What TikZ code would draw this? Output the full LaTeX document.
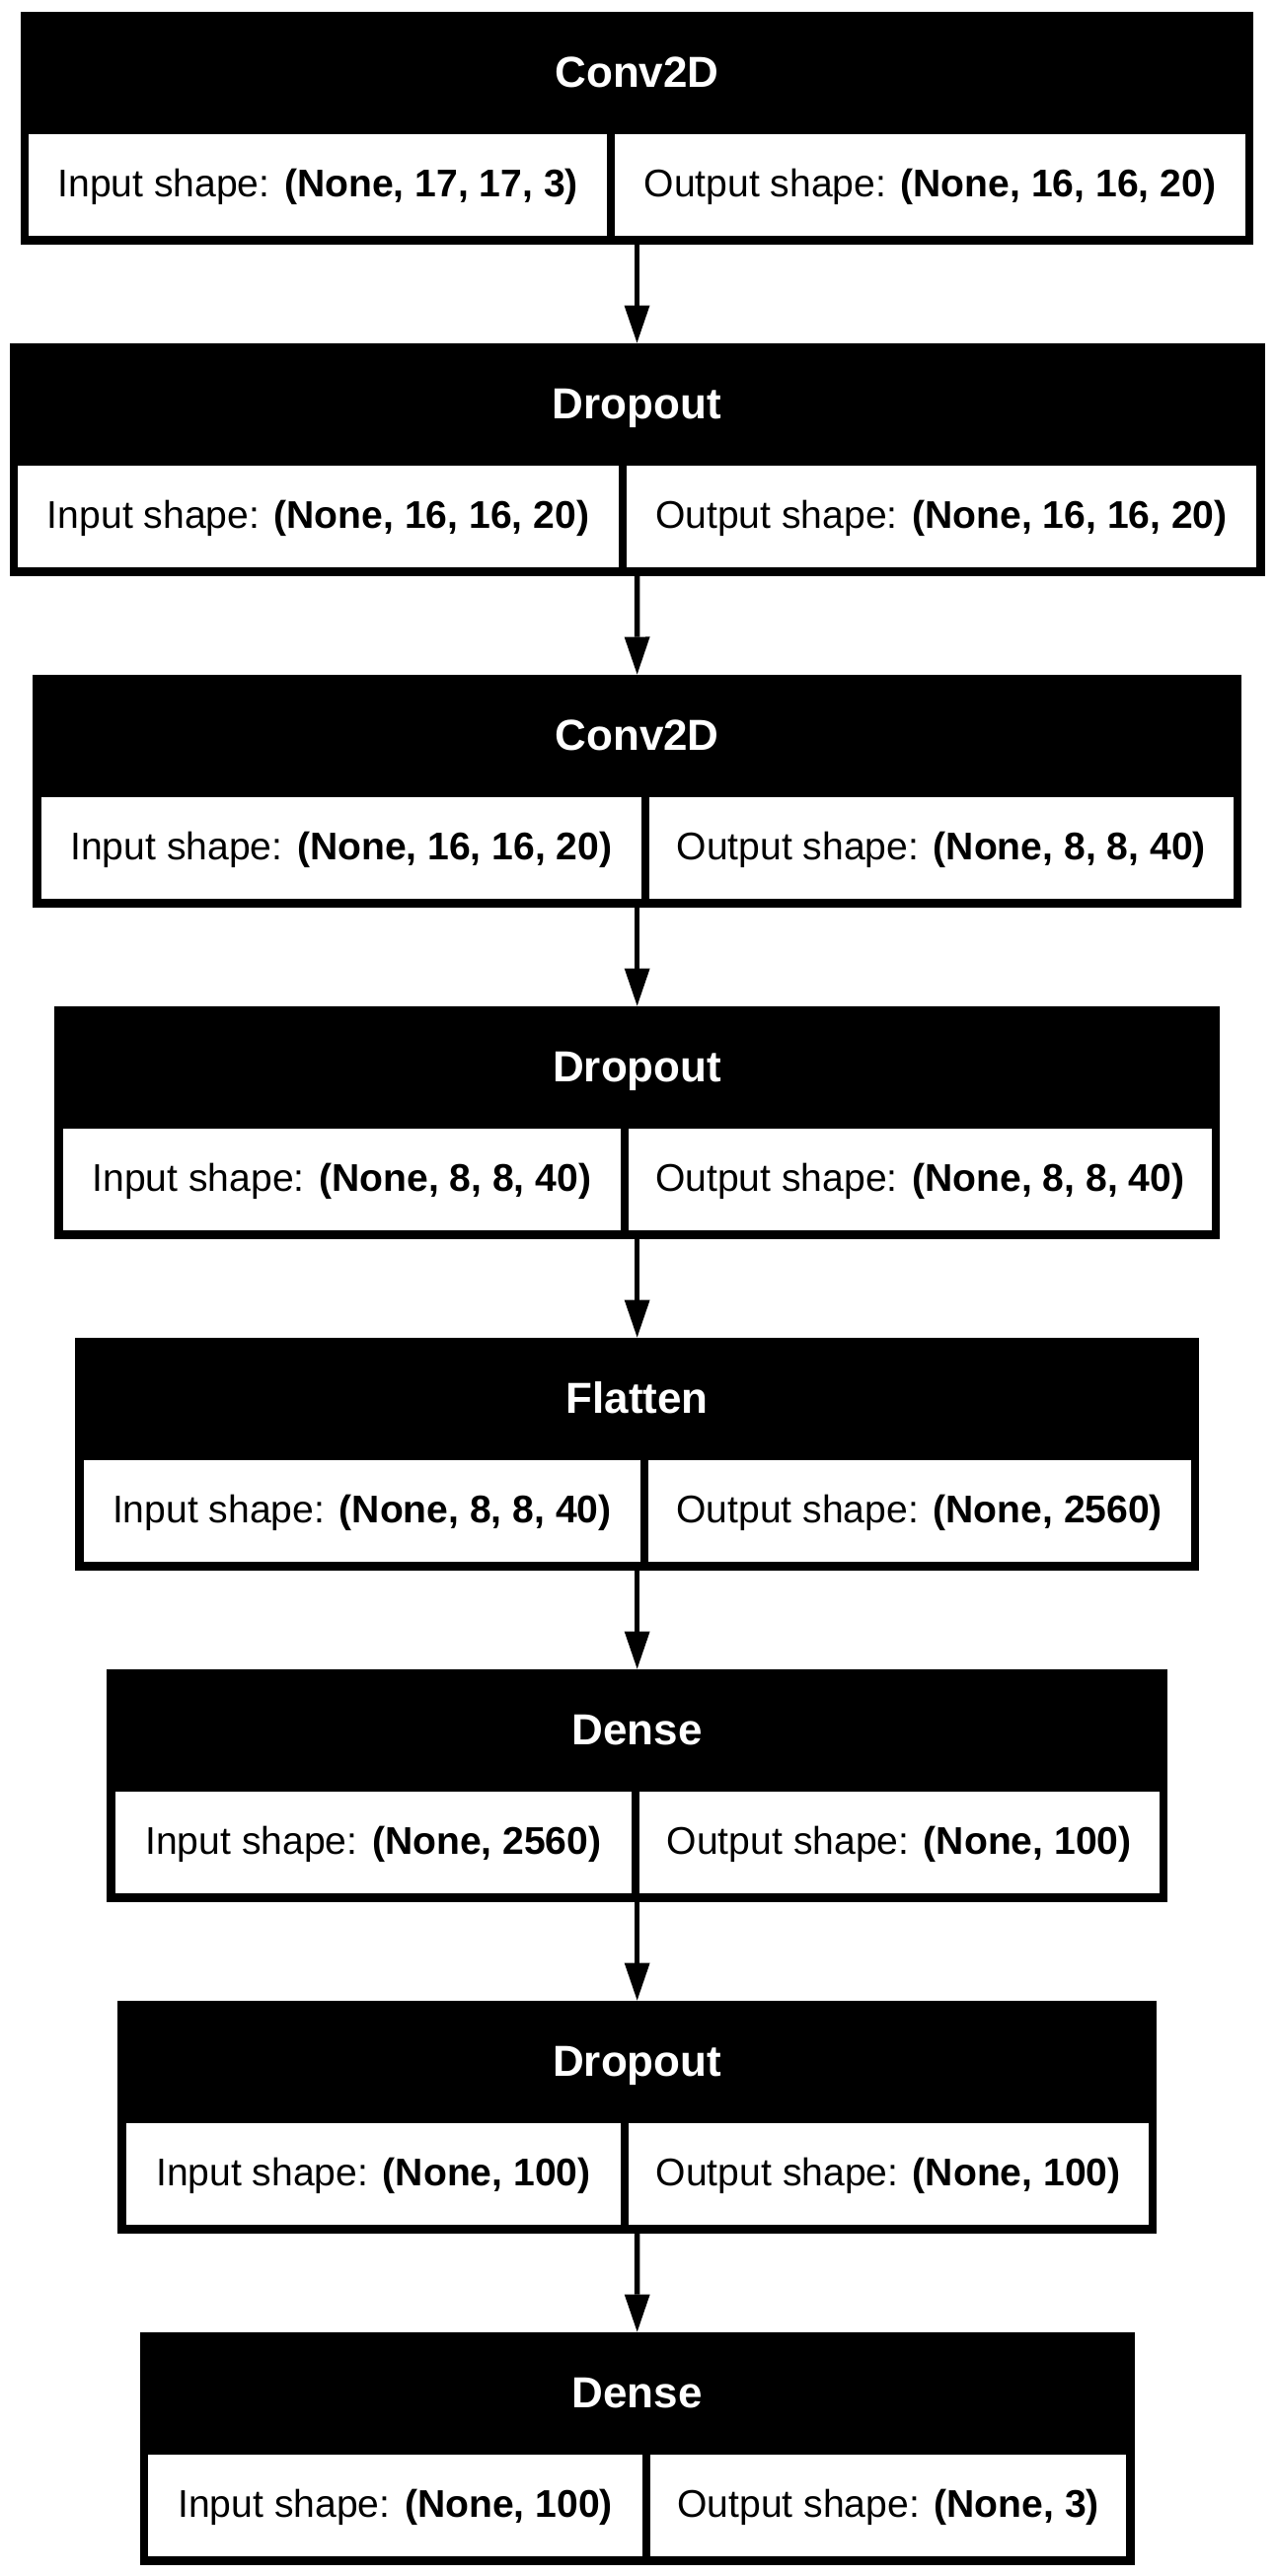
\documentclass[tikz,border=0pt]{standalone}
\usepackage{fontspec}
\setmainfont{Liberation Sans}
\usetikzlibrary{arrows.meta}
\newcommand\cellfont{\fontsize{39.1}{46}\selectfont}
\newcommand\hdrfont{\fontsize{44}{50}\selectfont\bfseries}
\tikzset{
  blk/.style={fill=black, draw=none, inner sep=0pt, outer sep=0pt, anchor=north, minimum height=236pt},
  cellbox/.style={fill=white, draw=none, inner sep=0pt, outer sep=0pt, anchor=north west,
                  minimum height=102.5pt, font=\cellfont, text=black, text height=28pt, text depth=4.5pt},
  hdrtext/.style={text=white, font=\hdrfont, inner sep=0pt, anchor=base},
  conn/.style={line width=5.5pt, -{Triangle[length=38pt,width=26pt,line width=0pt]}}
}
\newcommand\layerblock[7]{%
  \pgfmathsetmacro\Tt{11.5+336*(#1-1)}%
  \pgfmathsetmacro\Wd{#4-#3}%
  \pgfmathsetmacro\Cx{(#3+#4)/2}%
  \pgfmathsetmacro\Hy{\Tt+76.5}%
  \pgfmathsetmacro\Cy{\Tt+124.5}%
  \pgfmathsetmacro\Lx{#3+8.5}%
  \pgfmathsetmacro\Rx{#5+4}%
  \pgfmathsetmacro\Lw{#5-4-#3-8.5}%
  \pgfmathsetmacro\Rw{#4-8.5-#5-4}%
  \node[blk, minimum width=\Wd pt] (b#1) at (\Cx,\Tt) {};
  \node[hdrtext] (h#1) at (\Cx,\Hy) {#2};
  \node[cellbox, minimum width=\Lw pt] (in#1) at (\Lx,\Cy) {Input shape: \textbf{#6}};
  \node[cellbox, minimum width=\Rw pt] (out#1) at (\Rx,\Cy) {Output shape: \textbf{#7}};
}
\begin{document}
\begin{tikzpicture}[x=1pt,y=-1pt]
\useasboundingbox[fill=white] (0,0) rectangle (1292,2611);
\layerblock{1}{Conv2D}{20.7}{1270.3}{619}{(None, 17, 17, 3)}{(None, 16, 16, 20)}
\layerblock{2}{Dropout}{9.5}{1281.5}{631}{(None, 16, 16, 20)}{(None, 16, 16, 20)}
\layerblock{3}{Conv2D}{33.3}{1258}{654}{(None, 16, 16, 20)}{(None, 8, 8, 40)}
\layerblock{4}{Dropout}{55.3}{1236}{633}{(None, 8, 8, 40)}{(None, 8, 8, 40)}
\layerblock{5}{Flatten}{76.3}{1215}{653}{(None, 8, 8, 40)}{(None, 2560)}
\layerblock{6}{Dense}{108.3}{1183}{644}{(None, 2560)}{(None, 100)}
\layerblock{7}{Dropout}{119.3}{1172}{633}{(None, 100)}{(None, 100)}
\layerblock{8}{Dense}{141.7}{1149.7}{655}{(None, 100)}{(None, 3)}
\foreach \a/\b in {1/2,2/3,3/4,4/5,5/6,6/7,7/8}
  \draw[conn] (b\a.south) -- (b\b.north);
\end{tikzpicture}
\end{document}
